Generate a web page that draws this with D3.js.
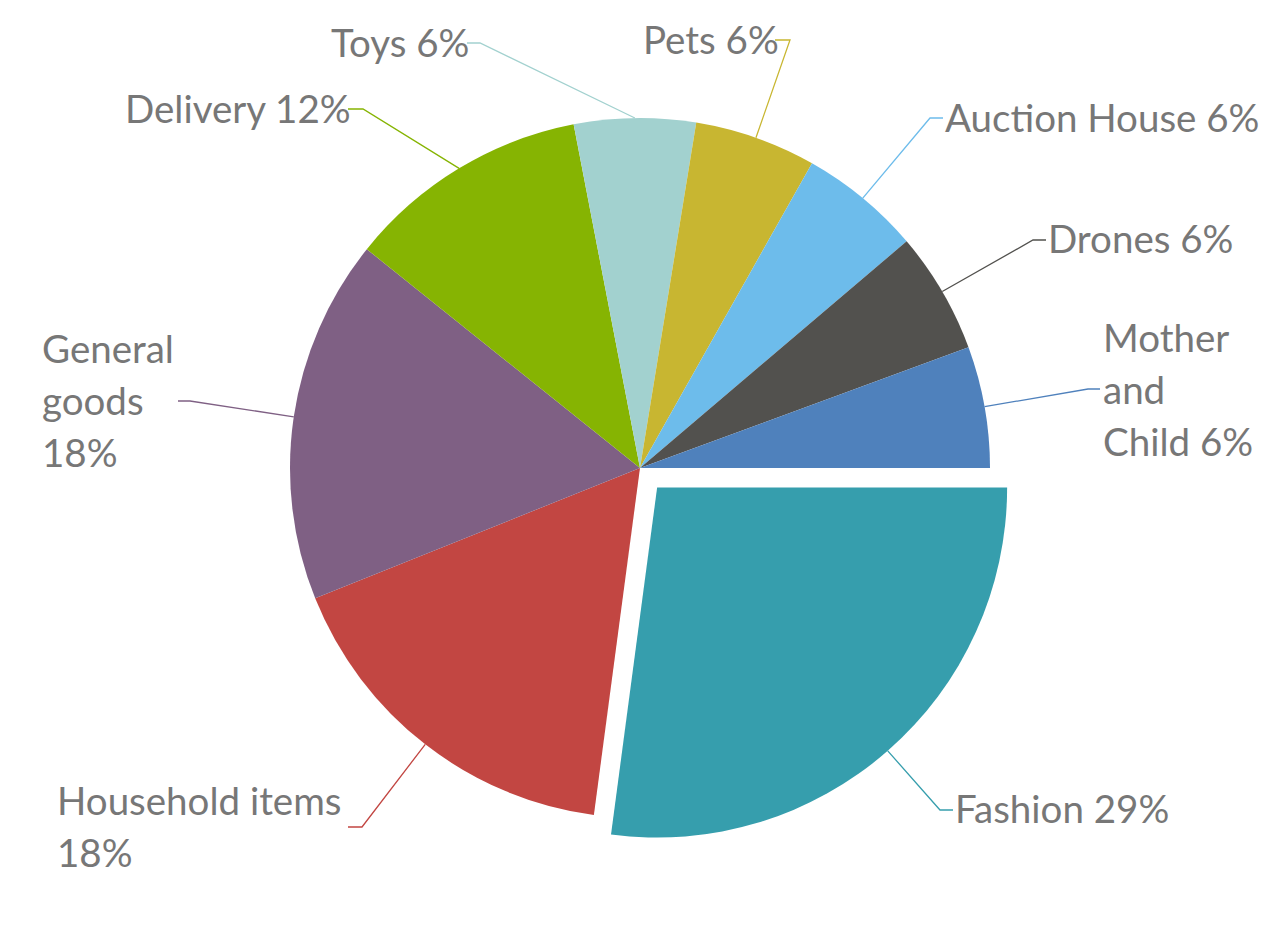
<!DOCTYPE html>
<html>
<head>
<meta charset="utf-8">
<script src="https://cdn.jsdelivr.net/npm/d3@7"></script>
<style>
  body { margin: 0; background: #fff; }
</style>
</head>
<body>
<div id="chart"></div>
<script>
const categories = ["Fashion", "Household items", "General goods", "Delivery", "Toys", "Pets", "Auction House", "Drones", "Mother and Child"];
const shares = [29, 18, 18, 12, 6, 6, 6, 6, 6];
const colors = ["#369EAD", "#C24642", "#7F6084", "#86B402", "#A2D1CF", "#C8B631", "#6DBCEB", "#52514E", "#4F81BC"];

// label text split into lines, and where each label sits (x, first baseline, connector bend, connector end)
const labelLines = [
  ["Fashion 29%"],
  ["Household items", "18%"],
  ["General", "goods", "18%"],
  ["Delivery 12%"],
  ["Toys 6%"],
  ["Pets 6%"],
  ["Auction House 6%"],
  ["Drones 6%"],
  ["Mother", "and", "Child 6%"]
];
const labelLayout = [
  { x: 955, y: 823, bend: [940, 810], end: [953, 810] },
  { x: 57, y: 815, bend: [362, 827], end: [348, 827] },
  { x: 42, y: 363, bend: [190, 401], end: [178, 401] },
  { x: 125, y: 123, bend: [363, 109], end: [348, 109] },
  { x: 331, y: 57, bend: [480, 43], end: [467, 43] },
  { x: 643, y: 54, bend: [790, 40], end: [775, 40] },
  { x: 945, y: 132, bend: [930, 118], end: [943, 118] },
  { x: 1048, y: 253, bend: [1033, 240], end: [1046, 240] },
  { x: 1103, y: 352, bend: [1088, 389], end: [1100, 389] }
];

const width = 1280, height = 937;
const cx = 640, cy = 468, radius = 350;
const explode = 26;

const data = categories.map((c, i) => ({ name: c, value: shares[i], color: colors[i], lines: labelLines[i], layout: labelLayout[i] }));

const pie = d3.pie()
  .sort(null)
  .value(d => d.value)
  .startAngle(Math.PI / 2)
  .endAngle(Math.PI / 2 + 2 * Math.PI);

const arcs = pie(data);

const arc = d3.arc().innerRadius(0).outerRadius(radius);
const edge = d3.arc().innerRadius(radius).outerRadius(radius);

const svg = d3.select("#chart")
  .append("svg")
  .attr("width", width)
  .attr("height", height);

const g = svg.append("g")
  .attr("transform", `translate(${cx}, ${cy})`);

// offset of each slice (only Fashion is pulled out)
function shift(d) {
  if (d.index !== 0) return [0, 0];
  const mid = (d.startAngle + d.endAngle) / 2;
  return [Math.sin(mid) * explode, -Math.cos(mid) * explode];
}

g.selectAll(".slice")
  .data(arcs)
  .enter()
  .append("path")
  .attr("class", "slice")
  .attr("d", arc)
  .attr("transform", d => `translate(${shift(d)})`)
  .attr("fill", d => d.data.color);

// connector lines
g.selectAll(".leader")
  .data(arcs)
  .enter()
  .append("polyline")
  .attr("class", "leader")
  .attr("fill", "none")
  .attr("stroke", d => d.data.color)
  .attr("stroke-width", 1.3)
  .attr("points", d => {
    const [ox, oy] = shift(d);
    const [px, py] = edge.centroid(d);
    const L = d.data.layout;
    return [[px + ox, py + oy], [L.bend[0] - cx, L.bend[1] - cy], [L.end[0] - cx, L.end[1] - cy]].join(" ");
  });

// labels
const labels = svg.selectAll(".label")
  .data(arcs)
  .enter()
  .append("text")
  .attr("class", "label")
  .attr("x", d => d.data.layout.x)
  .attr("y", d => d.data.layout.y)
  .attr("fill", "#777777")
  .style("font-family", "Lato, 'Open Sans', sans-serif")
  .style("font-size", "38.5px");

labels.selectAll("tspan")
  .data(d => d.data.lines.map(t => ({ t, x: d.data.layout.x })))
  .enter()
  .append("tspan")
  .attr("x", d => d.x)
  .attr("dy", (d, i) => i === 0 ? 0 : 52)
  .text(d => d.t);
</script>
</body>
</html>
